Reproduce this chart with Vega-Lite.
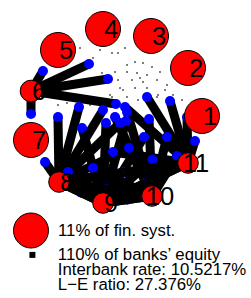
{
  "$schema": "https://vega.github.io/schema/vega-lite/v6.json",
  "width": 251,
  "height": 298,
  "padding": 0,
  "autosize": {"type": "none"},
  "background": "white",
  "config": {
    "view": {"stroke": null},
    "legend": {
      "orient": "none",
      "title": null,
      "padding": 0,
      "labelFont": "Liberation Sans",
      "labelFontSize": 16.8,
      "labelColor": "black",
      "labelLimit": 0,
      "symbolOpacity": 1
    }
  },
  "datasets": {
    "nodes": [
      {"bank": "1", "x": 202, "y": 116, "share": 11},
      {"bank": "2", "x": 188, "y": 68, "share": 11},
      {"bank": "3", "x": 151, "y": 36, "share": 11},
      {"bank": "4", "x": 103, "y": 29, "share": 11},
      {"bank": "5", "x": 58, "y": 50, "share": 11},
      {"bank": "6", "x": 31, "y": 91, "share": 4.2},
      {"bank": "7", "x": 31, "y": 140, "share": 11},
      {"bank": "8", "x": 59, "y": 182, "share": 3.8},
      {"bank": "9", "x": 103, "y": 203, "share": 3.8},
      {"bank": "10", "x": 152, "y": 196, "share": 3.8},
      {"bank": "11", "x": 188, "y": 163, "share": 3.8}
    ],
    "edges": [
      {"from": "6", "to": "1", "x": 31, "y": 91, "hx": 116, "hy": 104},
      {"from": "6", "to": "2", "x": 31, "y": 91, "hx": 108, "hy": 79},
      {"from": "6", "to": "3", "x": 31, "y": 91, "hx": 89, "hy": 64},
      {"from": "6", "to": "5", "x": 31, "y": 91, "hx": 43, "hy": 71},
      {"from": "6", "to": "7", "x": 31, "y": 91, "hx": 31, "hy": 114},
      {"from": "8", "to": "1", "x": 59, "y": 182, "hx": 129, "hy": 148},
      {"from": "8", "to": "2", "x": 59, "y": 182, "hx": 120, "hy": 123},
      {"from": "8", "to": "3", "x": 59, "y": 182, "hx": 103, "hy": 110},
      {"from": "8", "to": "4", "x": 59, "y": 182, "hx": 79, "hy": 107},
      {"from": "8", "to": "5", "x": 59, "y": 182, "hx": 58, "hy": 117},
      {"from": "8", "to": "7", "x": 59, "y": 182, "hx": 45, "hy": 162},
      {"from": "8", "to": "9", "x": 59, "y": 182, "hx": 81, "hy": 192.5},
      {"from": "8", "to": "10", "x": 59, "y": 182, "hx": 105.5, "hy": 189},
      {"from": "8", "to": "11", "x": 59, "y": 182, "hx": 123.5, "hy": 172.5},
      {"from": "9", "to": "1", "x": 103, "y": 203, "hx": 152.5, "hy": 159.5},
      {"from": "9", "to": "2", "x": 103, "y": 203, "hx": 144, "hy": 137},
      {"from": "9", "to": "3", "x": 103, "y": 203, "hx": 126, "hy": 121},
      {"from": "9", "to": "4", "x": 103, "y": 203, "hx": 106, "hy": 123},
      {"from": "9", "to": "5", "x": 103, "y": 203, "hx": 82, "hy": 128},
      {"from": "9", "to": "7", "x": 103, "y": 203, "hx": 68, "hy": 172},
      {"from": "9", "to": "8", "x": 103, "y": 203, "hx": 81, "hy": 192.5},
      {"from": "9", "to": "10", "x": 103, "y": 203, "hx": 127.5, "hy": 199.5},
      {"from": "9", "to": "11", "x": 103, "y": 203, "hx": 145.5, "hy": 183},
      {"from": "10", "to": "1", "x": 152, "y": 196, "hx": 177, "hy": 156},
      {"from": "10", "to": "2", "x": 152, "y": 196, "hx": 167, "hy": 137},
      {"from": "10", "to": "3", "x": 152, "y": 196, "hx": 149, "hy": 119},
      {"from": "10", "to": "4", "x": 152, "y": 196, "hx": 127, "hy": 112},
      {"from": "10", "to": "5", "x": 152, "y": 196, "hx": 115, "hy": 117},
      {"from": "10", "to": "7", "x": 152, "y": 196, "hx": 93, "hy": 168},
      {"from": "10", "to": "8", "x": 152, "y": 196, "hx": 105.5, "hy": 189},
      {"from": "10", "to": "9", "x": 152, "y": 196, "hx": 127.5, "hy": 199.5},
      {"from": "11", "to": "1", "x": 188, "y": 163, "hx": 195, "hy": 141},
      {"from": "11", "to": "2", "x": 188, "y": 163, "hx": 187, "hy": 117},
      {"from": "11", "to": "3", "x": 188, "y": 163, "hx": 170, "hy": 101},
      {"from": "11", "to": "4", "x": 188, "y": 163, "hx": 147, "hy": 97},
      {"from": "11", "to": "5", "x": 188, "y": 163, "hx": 125, "hy": 107},
      {"from": "11", "to": "7", "x": 188, "y": 163, "hx": 113, "hy": 152},
      {"from": "11", "to": "8", "x": 188, "y": 163, "hx": 123.5, "hy": 172.5},
      {"from": "11", "to": "9", "x": 188, "y": 163, "hx": 145.5, "hy": 183}
    ],
    "small_flows": [
      {"x": 80, "y": 48}, {"x": 93, "y": 58}, {"x": 100, "y": 50}, {"x": 112, "y": 53},
      {"x": 118, "y": 53}, {"x": 125, "y": 48}, {"x": 127, "y": 65}, {"x": 135, "y": 62},
      {"x": 143, "y": 63}, {"x": 152, "y": 67}, {"x": 160, "y": 72}, {"x": 115, "y": 72},
      {"x": 127, "y": 72}, {"x": 137, "y": 73}, {"x": 147, "y": 75}, {"x": 118, "y": 80},
      {"x": 132, "y": 80}, {"x": 143, "y": 82}, {"x": 157, "y": 80}, {"x": 167, "y": 85},
      {"x": 120, "y": 88}, {"x": 135, "y": 88}, {"x": 147, "y": 88}, {"x": 165, "y": 90},
      {"x": 173, "y": 95}, {"x": 112, "y": 97}, {"x": 127, "y": 97}, {"x": 138, "y": 100},
      {"x": 157, "y": 97}, {"x": 182, "y": 100}, {"x": 100, "y": 100}, {"x": 90, "y": 105},
      {"x": 58, "y": 105}, {"x": 67, "y": 103}, {"x": 102, "y": 73}, {"x": 103, "y": 82},
      {"x": 110, "y": 95}, {"x": 123, "y": 90}, {"x": 158, "y": 95}, {"x": 140, "y": 78}
    ],
    "key": [
      {"line": "11% of fin. syst."},
      {"line": "110% of banks’ equity"},
      {"line": "Interbank rate: 10.5217%"},
      {"line": "L−E ratio: 27.376%"}
    ]
  },
  "encoding": {
    "x": {"field": "x", "type": "quantitative", "scale": {"domain": [0, 251], "nice": false, "zero": false}, "axis": null},
    "y": {"field": "y", "type": "quantitative", "scale": {"domain": [0, 298], "nice": false, "zero": false, "reverse": true}, "axis": null}
  },
  "layer": [
    {
      "data": {"name": "small_flows"},
      "mark": {"type": "point", "shape": "square", "filled": true, "color": "black", "size": 2.5, "opacity": 0.85}
    },
    {
      "data": {"name": "edges"},
      "mark": {"type": "rule", "color": "black", "strokeWidth": 9, "strokeCap": "butt"},
      "encoding": {
        "x2": {"field": "hx"},
        "y2": {"field": "hy"}
      }
    },
    {
      "data": {"name": "edges"},
      "mark": {"type": "point", "shape": "circle", "filled": true, "color": "#0000FF", "size": 100, "opacity": 1},
      "encoding": {
        "x": {"field": "hx", "type": "quantitative"},
        "y": {"field": "hy", "type": "quantitative"}
      }
    },
    {
      "data": {"name": "edges"},
      "transform": [{"filter": "toNumber(datum.to) >= 8"}],
      "mark": {"type": "rule", "color": "black", "strokeWidth": 9, "strokeCap": "butt"},
      "encoding": {
        "x2": {"field": "hx"},
        "y2": {"field": "hy"}
      }
    },
    {
      "data": {"name": "nodes"},
      "mark": {"type": "point", "shape": "circle", "filled": true, "fill": "#FF0000", "stroke": "black", "strokeWidth": 1, "opacity": 1},
      "encoding": {
        "size": {"field": "share", "type": "quantitative", "scale": {"domain": [0, 11], "range": [0, 1225], "zero": true}, "legend": null}
      }
    },
    {
      "data": {"name": "nodes"},
      "mark": {"type": "text", "font": "Liberation Sans", "fontSize": 25.5, "color": "black", "align": "center", "baseline": "middle", "dx": 8, "dy": 1},
      "encoding": {
        "text": {"field": "bank", "type": "nominal"}
      }
    },
    {
      "data": {"name": "key"},
      "transform": [{"filter": "false"}],
      "mark": {"type": "point", "filled": true},
      "encoding": {
        "x": {"value": 0},
        "y": {"value": 0},
        "color": {
          "field": "line", "type": "nominal",
          "scale": {"domain": ["11% of fin. syst."], "range": ["#FF0000"]},
          "legend": {
            "legendX": 13, "legendY": 212.5,
            "symbolType": "circle", "symbolSize": 1225,
            "symbolStrokeColor": "black", "symbolStrokeWidth": 1,
            "labelOffset": 9
          }
        }
      }
    },
    {
      "data": {"name": "key"},
      "transform": [{"filter": "false"}],
      "mark": {"type": "point", "filled": true},
      "encoding": {
        "x": {"value": 0},
        "y": {"value": 0},
        "color": {
          "field": "line", "type": "nominal",
          "scale": {"domain": ["110% of banks’ equity"], "range": ["black"]},
          "legend": {
            "legendX": 24, "legendY": 246.5,
            "symbolType": "square", "symbolSize": 36, "symbolStrokeWidth": 0,
            "labelOffset": 17
          }
        }
      }
    },
    {
      "data": {"name": "key"},
      "transform": [{"filter": "false"}],
      "mark": {"type": "point", "filled": true},
      "encoding": {
        "x": {"value": 0},
        "y": {"value": 0},
        "color": {
          "field": "line", "type": "nominal",
          "scale": {"domain": ["Interbank rate: 10.5217%"], "range": ["white"]},
          "legend": {
            "legendX": 24, "legendY": 261.5,
            "symbolType": "M0,0", "symbolSize": 36, "symbolStrokeWidth": 0,
            "labelOffset": 17
          }
        }
      }
    },
    {
      "data": {"name": "key"},
      "transform": [{"filter": "false"}],
      "mark": {"type": "point", "filled": true},
      "encoding": {
        "x": {"value": 0},
        "y": {"value": 0},
        "color": {
          "field": "line", "type": "nominal",
          "scale": {"domain": ["L−E ratio: 27.376%"], "range": ["white"]},
          "legend": {
            "legendX": 24, "legendY": 276.5,
            "symbolType": "M0,0", "symbolSize": 36, "symbolStrokeWidth": 0,
            "labelOffset": 17
          }
        }
      }
    }
  ],
  "resolve": {"scale": {"color": "independent"}}
}
